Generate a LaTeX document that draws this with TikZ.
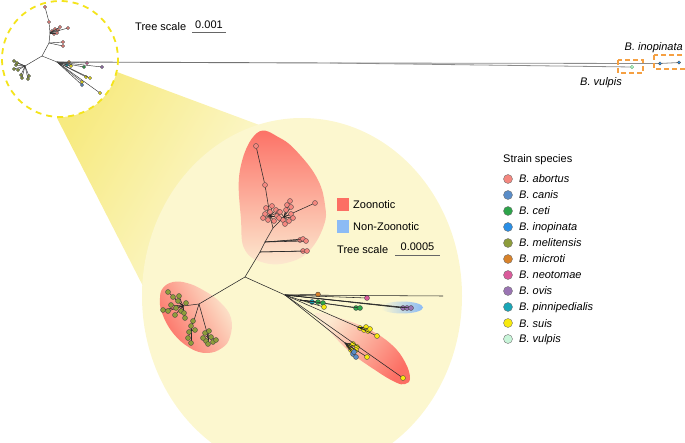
\documentclass[tikz,border=0pt]{standalone}
\usepackage{fontspec}
\setmainfont{Liberation Sans}
\usetikzlibrary{calc}
\definecolor{cab}{HTML}{F4877F}
\definecolor{ccan}{HTML}{5A8DC8}
\definecolor{cce}{HTML}{2DA44A}
\definecolor{cin}{HTML}{2A8FE6}
\definecolor{cme}{HTML}{8D9C3B}
\definecolor{cmi}{HTML}{D8822A}
\definecolor{cne}{HTML}{DA5B9B}
\definecolor{cov}{HTML}{9A74B3}
\definecolor{cpi}{HTML}{1AA6B7}
\definecolor{csu}{HTML}{F7EA0E}
\definecolor{cvu}{HTML}{C8F5D9}
\definecolor{zred}{HTML}{FC6F64}
\definecolor{zpale}{HTML}{FCE9D0}
\definecolor{nzblue}{HTML}{8CBBF5}
\definecolor{bgY}{HTML}{FCF7CF}
\definecolor{beamY}{HTML}{F7EA80}
\definecolor{beamW}{HTML}{FDFBE6}
\definecolor{dashY}{HTML}{F4E41C}
\definecolor{boxO}{HTML}{F5A042}
\tikzset{
  edge/.style={draw=black!85, line width=0.55pt},
  sedge/.style={draw=black!80, line width=0.45pt},
  tip/.style={circle, draw=black!75, line width=0.35pt, inner sep=0pt, minimum size=5pt},
  stip/.style={circle, draw=black!75, line width=0.3pt, inner sep=0pt, minimum size=3.4pt},
  ltip/.style={circle, draw=black!55, line width=0.4pt, inner sep=0pt, minimum size=9pt},
  lab/.style={font=\fontsize{11}{13}\selectfont, inner sep=0pt},
  ilab/.style={font=\fontsize{11}{13}\selectfont\itshape, inner sep=0pt},
  sbar/.style={draw=black!60, line width=0.6pt}
}
\begin{document}
\begin{tikzpicture}[x=1pt,y=-1pt]
\useasboundingbox (0,0) rectangle (685,443);
% ---------- beam and zoom disc ----------
\coordinate (c1) at (60,59);
\coordinate (c2) at (302,296);
\shade[top color=beamY, bottom color=beamW, shading angle=60]
  (117,72) -- (262,126) -- (c2) -- (146,292) -- (57,118) -- (c1) -- cycle;
\fill[white] (c1) circle (58);
\fill[bgY] (c2) ellipse (160 and 178);
% ---------- clade highlights ----------
\shade[top color=zred, bottom color=zpale, shading angle=0]
  plot[smooth cycle, tension=0.7] coordinates {(257,133) (280,138) (300,155) (318,180) (325,205) (324,225) (310,250) (290,262) (265,263) (245,250) (241,220) (240,170)};
\shade[top color=zpale, bottom color=zred, shading angle=-60]
  plot[smooth cycle, tension=0.7] coordinates {(163,288) (173,282) (187,283) (203,290) (220,302) (231,318) (230,337) (222,348) (207,353) (190,348) (173,333) (162,313) (160,298)};
\shade[top color=zpale, bottom color=zred, shading angle=55]
  plot[smooth cycle, tension=0.7] coordinates {(318,313) (340,318) (370,330) (392,345) (405,362) (410,378) (405,384) (395,382) (375,370) (350,352) (330,332) (317,318)};
\shade[top color=bgY, bottom color=nzblue, shading angle=90]
  (402,307.5) ellipse (21 and 6);
% ---------- big tree ----------
\coordinate (R) at (245,277);
\coordinate (U1) at (260,252);
\coordinate (U2) at (265,242);
\coordinate (U3) at (273,228);
\coordinate (UL) at (270,216);
\coordinate (UR) at (284,217);
\node[tip,fill=cab] (ut1) at (265,185) {};
\node[tip,fill=cab] (ut2) at (256,146) {};
\node[tip,fill=cab] (ut3) at (315,203) {};
\draw[edge] (R) -- (U1) -- (U2) -- (U3) -- (UL) -- (ut1) -- (ut2);
\draw[edge] (U3) -- (UR) -- (ut3);
\foreach \x/\y [count=\i] in {303/251,307/251}{
  \node[tip,fill=cab] (ua\i) at (\x,\y) {}; \draw[edge] (U1) -- (ua\i);}
\foreach \x/\y [count=\i] in {300/240,303/239,306/241}{
  \node[tip,fill=cab] (ub\i) at (\x,\y) {}; \draw[edge] (U2) -- (ub\i);}
\foreach \x/\y [count=\i] in {266/208,272/206,276/210,265/214,270/212,277/216,268/220,274/221,263/218,279/212}{
  \draw[edge] (UL) -- (\x,\y) coordinate (ulp\i);}
\foreach \i in {1,...,10}{\node[tip,fill=cab] (ul\i) at (ulp\i) {};}
\foreach \x/\y [count=\i] in {280/212,286/210,291/214,283/220,289/221,293/218,287/205,290/201,291/207,279/218,285/224}{
  \draw[edge] (UR) -- (\x,\y) coordinate (urp\i);}
\foreach \i in {1,...,11}{\node[tip,fill=cab] (ur\i) at (urp\i) {};}
% green clade
\coordinate (G0) at (199,304);
\coordinate (G1) at (183,306);
\coordinate (G2) at (191,330);
\coordinate (G3) at (208,336);
\draw[edge] (R) -- (G0) -- (G1);
\draw[edge] (G0) -- (G2);
\draw[edge] (G0) -- (G3);
\foreach \x/\y [count=\i] in {168/292,173/297,178/301,171/305,176/308,181/311,168/311,175/315,184/313,186/303,179/296,163/310,185/318}{
  \draw[edge] (G1) -- (\x,\y) coordinate (gap\i);}
\foreach \i in {1,...,13}{\node[tip,fill=cme] (ga\i) at (gap\i) {};}
\foreach \x/\y [count=\i] in {193/321,191/326,189/332,188/338,191/343,195/330}{
  \draw[edge] (G2) -- (\x,\y) coordinate (gbp\i);}
\foreach \i in {1,...,6}{\node[tip,fill=cme] (gb\i) at (gbp\i) {};}
\foreach \x/\y [count=\i] in {205/333,209/331,211/337,206/341,213/342,203/338,216/340,208/344}{
  \draw[edge] (G3) -- (\x,\y) coordinate (gcp\i);}
\foreach \i in {1,...,8}{\node[tip,fill=cme] (gc\i) at (gcp\i) {};}
% lower right clade
\coordinate (H) at (285,295);
\coordinate (E) at (443,296);
\coordinate (HP) at (300,300);
\coordinate (HA) at (358,327);
\coordinate (HB) at (345,343);
\draw[edge] (R) -- (H) -- (E);
\draw[edge] (H) -- (HP);
\draw[edge] (H) -- (HA);
\draw[edge] (H) -- (HB);
\foreach \x/\y/\c/\h [count=\i] in {318/294.5/cmi/H,367/298/cne/H,403/308/cov/H,407/308/cov/H,411/308/cov/H,356/308/cce/HP,360/308/cce/HP,312/302/cpi/HP,318/302/cce/HP,323/303/cce/HP,324/307/csu/HP,
  360/328/csu/HA,364/330/csu/HA,368/331/csu/HA,366/327/csu/HA,370/329/csu/HA,377/336/csu/HA,
  349/346/csu/HB,353/344/csu/HB,357/347/csu/HB,351/350/csu/HB,356/350/csu/HB,353/354/ccan/HB,356/357/ccan/HB,354/352/ccan/HB,367/357/csu/HB,403/378/csu/H}{
  \draw[edge] (\h) -- (\x,\y) coordinate (hp\i);
  \node[tip,fill=\c] (h\i) at (hp\i) {};}
% ---------- small tree ----------
\coordinate (r) at (42,56);
\coordinate (sa) at (49,43);
\coordinate (sb) at (50,33);
\coordinate (sg) at (25,66);
\coordinate (sh) at (57,62);
\coordinate (S) at (330,63);
\node[stip,fill=cab] (st1) at (49,22) {};
\node[stip,fill=cab] (st2) at (45,7) {};
\draw[sedge] (sa) -- (r) -- (sg);
\draw[sedge] (r) -- (sh);
\draw[sedge] (sa) -- (sb) -- (st1) -- (st2);
\foreach \x/\y/\c/\h [count=\i] in {63/42/cab/sa,63/46/cab/sa,52/31/cab/sb,55/29/cab/sb,58/30/cab/sb,54/34/cab/sb,57/33/cab/sb,60/27/cab/sb,68/28/cab/sb,
  14/61/cme/sg,16/65/cme/sg,14/69/cme/sg,18/70/cme/sg,17/63/cme/sg,22/78/cme/sg,28/79/cme/sg,21/75/cme/sg,29/76/cme/sg,
  69/62/cmi/sh,67/65/cpi/sh,71/66/csu/sh,87/63/cne/sh,84/67/cce/sh,102/67/cov/sh,86/77/csu/sh,90/78/csu/sh,82/82/csu/sh,82/85/ccan/sh,100/93/csu/sh}{
  \draw[sedge] (\h) -- (\x,\y) coordinate (sp\i);
  \node[stip,fill=\c] (s\i) at (sp\i) {};}
% long branches
\node[stip,fill=cvu,draw=cce] (V) at (632,67) {};
\node[stip,fill=cin] (I1) at (660,63.5) {};
\node[stip,fill=cin] (I2) at (679,62.5) {};
\draw[draw=black!55, line width=0.9pt] (sh) -- (S);
\draw[draw=black!45, line width=0.8pt] (S) -- (V);
\draw[draw=black!45, line width=0.8pt] (S) -- (I1) -- (I2);
% small dashed circle
\draw[dashY, line width=1.8pt, dash pattern=on 6pt off 5pt] (c1) circle (58);
% orange boxes
\draw[boxO, line width=1.2pt, dash pattern=on 5pt off 3pt] (618,60) rectangle (643,73);
\draw[boxO, line width=1.2pt, dash pattern=on 5pt off 3pt] (654,55) rectangle (686,69);
% ---------- labels ----------
\node[ilab, anchor=base east] (linop) at (683,51) {B. inopinata};
\node[ilab, anchor=base east] (lvul) at (622,86) {B. vulpis};
\node[lab, anchor=base west] (ts1) at (135,31) {Tree scale};
\node[lab, anchor=base] (ts1v) at (209,28.5) {0.001};
\coordinate (b1a) at (192,32.5); \coordinate (b1b) at (226,32.5);
\draw[sbar] (b1a) -- (b1b);
% zoonotic legend
\node[fill=zred, minimum size=12.5pt, inner sep=0pt] (kz) at (343,204.5) {};
\node[fill=nzblue, minimum size=12.5pt, inner sep=0pt] (knz) at (343,226.5) {};
\node[lab, anchor=base west] (lz) at (353,209) {Zoonotic};
\node[lab, anchor=base west] (lnz) at (353,231) {Non-Zoonotic};
\node[lab, anchor=base west] (ts2) at (337,254) {Tree scale};
\node[lab, anchor=base] (ts2v) at (417.5,251) {0.0005};
\coordinate (b2a) at (395,255); \coordinate (b2b) at (440,255);
\draw[sbar] (b2a) -- (b2b);
% strain legend
\node[lab, anchor=base west] (lss) at (503,163) {Strain species};
\foreach \c/\n [count=\i from 0] in {cab/abortus,ccan/canis,cce/ceti,cin/inopinata,cme/melitensis,cmi/microti,cne/neotomae,cov/ovis,cpi/pinnipedialis,csu/suis,cvu/vulpis}{
  \node[ltip, fill=\c] (lg\i) at (508,179+16*\i) {};
  \node[ilab, anchor=base west] (lt\i) at (519,183+16*\i) {B. \n};}
\end{tikzpicture}
\end{document}
